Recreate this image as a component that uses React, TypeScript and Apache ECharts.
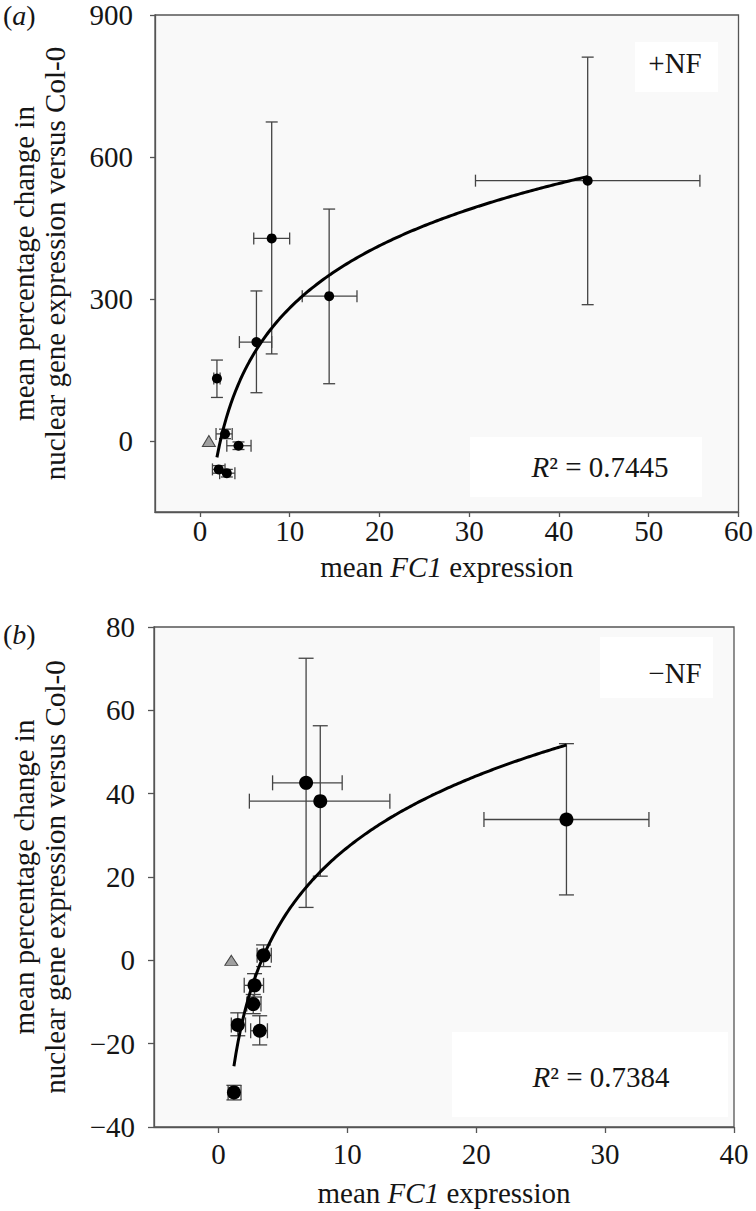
import React, { useEffect, useRef } from "react";
import * as echarts from "echarts";

// ---------- Panel (a): +NF ----------
const aX = [1.9, 2.8, 4.3, 2.1, 3.0, 6.3, 8.0, 14.4, 43.2];
const aY = [132, 15, -10, -60, -68, 209, 428, 306, 550];
const aXLow = [1.55, 1.8, 3.0, 1.4, 2.2, 4.4, 6.0, 11.4, 30.7];
const aXHigh = [2.25, 3.6, 5.7, 2.8, 3.9, 8.0, 10.0, 17.5, 55.7];
const aYLow = [92, 5, -18, -68, -76, 102, 184, 121, 288];
const aYHigh = [171, 25, -2, -52, -60, 317, 674, 490, 811];
const aControl = [[1.0, 0]];
const aXTicks = [0, 10, 20, 30, 40, 50, 60];
const aYTicks = [0, 300, 600, 900];
const aR2 = "0.7445";
const aTag = "+NF";

// ---------- Panel (b): -NF ----------
const bX = [6.8, 7.9, 27.0, 3.5, 2.8, 2.7, 1.5, 3.2, 1.2];
const bY = [42.6, 38.2, 33.8, 1.2, -6.0, -10.5, -15.5, -16.9, -31.7];
const bXLow = [4.2, 2.4, 20.6, 3.0, 2.0, 2.2, 1.0, 2.5, 0.75];
const bXHigh = [9.6, 13.3, 33.4, 4.1, 3.5, 3.3, 2.1, 3.8, 1.75];
const bYLow = [12.7, 20.2, 15.7, -1.5, -8.8, -12.8, -18.1, -20.3, -33.5];
const bYHigh = [72.5, 56.3, 52.0, 3.7, -3.2, -8.2, -12.6, -13.3, -30.0];
const bControl = [[1.0, 0]];
const bXTicks = [0, 10, 20, 30, 40];
const bR2 = "0.7384";
const bTag = "\u2212NF";

const FONT = "'Liberation Serif', 'DejaVu Serif', serif";
const AXIS_COLOR = "#555";
const TEXT_COLOR = "#151515";

// logarithmic least-squares trend line (y = a ln x + b) over the data range
function logTrend(xs: number[], ys: number[], n = 160) {
  const ls = xs.map((x) => Math.log(x));
  const ml = ls.reduce((s, v) => s + v, 0) / ls.length;
  const my = ys.reduce((s, v) => s + v, 0) / ys.length;
  let sxy = 0;
  let sxx = 0;
  ls.forEach((l, i) => {
    sxy += (l - ml) * (ys[i] - my);
    sxx += (l - ml) * (l - ml);
  });
  const a = sxy / sxx;
  const b = my - a * ml;
  const lo = Math.min(...xs);
  const hi = Math.max(...xs);
  const out: number[][] = [];
  for (let i = 0; i <= n; i++) {
    const x = lo + ((hi - lo) * i) / n;
    out.push([x, a * Math.log(x) + b]);
  }
  return out;
}

function errRows(xs: number[], ys: number[], xl: number[], xh: number[], yl: number[], yh: number[]) {
  return xs.map((x, i) => [x, ys[i], xl[i], xh[i], yl[i], yh[i]]);
}

function errorBarRenderer(cap: number) {
  return (_params: any, api: any) => {
    const x = api.value(0);
    const y = api.value(1);
    const pl = api.coord([api.value(2), y]);
    const ph = api.coord([api.value(3), y]);
    const pb = api.coord([x, api.value(4)]);
    const pt = api.coord([x, api.value(5)]);
    const style = { stroke: "#444", lineWidth: 1.3, fill: null };
    const ln = (x1: number, y1: number, x2: number, y2: number) => ({
      type: "line",
      shape: { x1, y1, x2, y2 },
      style,
    });
    return {
      type: "group",
      children: [
        ln(pl[0], pl[1], ph[0], ph[1]),
        ln(pl[0], pl[1] - cap, pl[0], pl[1] + cap),
        ln(ph[0], ph[1] - cap, ph[0], ph[1] + cap),
        ln(pb[0], pb[1], pt[0], pt[1]),
        ln(pb[0] - cap, pb[1], pb[0] + cap, pb[1]),
        ln(pt[0] - cap, pt[1], pt[0] + cap, pt[1]),
      ],
    };
  };
}

const minusFmt = (v: number) => (v < 0 ? "\u2212" + Math.abs(v) : String(v));

const yName = "mean percentage change in\nnuclear gene expression versus Col-0";
const xName = "{n|mean }{i|FC1}{n| expression}";
const nameStyle = {
  fontFamily: FONT,
  fontSize: 29,
  lineHeight: 31,
  color: TEXT_COLOR,
  rich: {
    n: { fontFamily: FONT, fontSize: 29, color: TEXT_COLOR },
    i: { fontFamily: FONT, fontSize: 29, color: TEXT_COLOR, fontStyle: "italic" },
  },
};

function makeX(gridIndex: number, min: number, max: number, ticks: number[], margin: number, nameGap: number, tickLen: number) {
  return {
    type: "value",
    gridIndex,
    min,
    max,
    name: xName,
    nameLocation: "middle",
    nameGap,
    nameTextStyle: nameStyle,
    axisLine: { show: true, onZero: false, lineStyle: { color: AXIS_COLOR, width: 1.3 } },
    axisTick: { show: true, inside: false, length: tickLen, customValues: ticks, lineStyle: { color: AXIS_COLOR, width: 1.3 } },
    axisLabel: { customValues: ticks, margin, fontFamily: FONT, fontSize: 29, color: TEXT_COLOR, formatter: minusFmt },
    splitLine: { show: false },
  };
}

function makeY(gridIndex: number, min: number, max: number, ticks: number[] | null, interval: number | null, margin: number, nameGap: number, tickLen: number) {
  const ax: any = {
    type: "value",
    gridIndex,
    min,
    max,
    name: yName,
    nameLocation: "middle",
    nameRotate: 90,
    nameGap,
    nameTextStyle: nameStyle,
    axisLine: { show: true, onZero: false, lineStyle: { color: AXIS_COLOR, width: 1.3 } },
    axisTick: { show: true, inside: false, length: tickLen, lineStyle: { color: AXIS_COLOR, width: 1.3 } },
    axisLabel: { margin, fontFamily: FONT, fontSize: 29, color: TEXT_COLOR, formatter: minusFmt },
    splitLine: { show: false },
  };
  if (ticks) {
    ax.axisTick.customValues = ticks;
    ax.axisLabel.customValues = ticks;
  }
  if (interval) ax.interval = interval;
  return ax;
}

function panelLabel(letter: string, y: number) {
  return {
    type: "text",
    x: 3,
    y,
    z: 20,
    style: {
      text: "{n|(}{i|" + letter + "}{n|)}",
      fontFamily: FONT,
      fontSize: 28,
      fill: TEXT_COLOR,
      verticalAlign: "middle",
      rich: {
        n: { fontFamily: FONT, fontSize: 28, fill: TEXT_COLOR },
        i: { fontFamily: FONT, fontSize: 28, fill: TEXT_COLOR, fontStyle: "italic" },
      },
    },
  };
}

function box(x: number, y: number, w: number, h: number) {
  return { type: "rect", shape: { x, y, width: w, height: h }, style: { fill: "#ffffff" }, z: 1 };
}

function centerText(text: string, x: number, y: number) {
  return {
    type: "text",
    x,
    y,
    z: 20,
    style: {
      text,
      fontFamily: FONT,
      fontSize: 29,
      fill: TEXT_COLOR,
      align: "center",
      verticalAlign: "middle",
      rich: {
        i: { fontFamily: FONT, fontSize: 29, fill: TEXT_COLOR, fontStyle: "italic" },
        n: { fontFamily: FONT, fontSize: 29, fill: TEXT_COLOR },
      },
    },
  };
}

export default function App() {
  const ref = useRef<HTMLDivElement>(null);

  useEffect(() => {
    if (!ref.current) return;
    const chart = echarts.init(ref.current, null, { renderer: "svg" });

    const option: any = {
      animation: false,
      backgroundColor: "#ffffff",
      grid: [
        { left: 155, top: 15, width: 585, height: 497, show: true, backgroundColor: "#f9f9f9", borderColor: AXIS_COLOR, borderWidth: 1.3 },
        { left: 154, top: 627, width: 580, height: 500, show: true, backgroundColor: "#f9f9f9", borderColor: AXIS_COLOR, borderWidth: 1.3 },
      ],
      xAxis: [
        makeX(0, -5, 60, aXTicks, 4, 39, 5),
        makeX(1, -5, 40, bXTicks, 12, 50, 6),
      ],
      yAxis: [
        makeY(0, -150, 900, aYTicks, null, 22, 85, 5),
        makeY(1, -40, 80, null, 20, 19, 84, 6),
      ],
      graphic: [
        panelLabel("a", 15),
        panelLabel("b", 634),
        box(635, 42, 83, 50),
        centerText(aTag, 675, 63),
        box(470, 437, 232, 60),
        centerText("{i|R}{n|\u00b2 = " + aR2 + "}", 600, 467),
        box(600, 637, 113, 61),
        centerText(bTag, 675, 673),
        box(452, 1032, 276, 85),
        centerText("{i|R}{n|\u00b2 = " + bR2 + "}", 601, 1077),
      ],
      series: [
        {
          type: "custom",
          xAxisIndex: 0,
          yAxisIndex: 0,
          z: 3,
          renderItem: errorBarRenderer(6),
          data: errRows(aX, aY, aXLow, aXHigh, aYLow, aYHigh),
          encode: { x: 0, y: 1 },
        },
        {
          type: "line",
          xAxisIndex: 0,
          yAxisIndex: 0,
          z: 4,
          showSymbol: false,
          symbol: "none",
          lineStyle: { color: "#000", width: 3 },
          data: logTrend(aX, aY),
        },
        {
          type: "scatter",
          xAxisIndex: 0,
          yAxisIndex: 0,
          z: 5,
          symbol: "circle",
          symbolSize: 10,
          itemStyle: { color: "#000", opacity: 1 },
          data: aX.map((x, i) => [x, aY[i]]),
        },
        {
          type: "scatter",
          xAxisIndex: 0,
          yAxisIndex: 0,
          z: 5,
          symbol: "triangle",
          symbolSize: [13, 11],
          itemStyle: { color: "#a0a0a0", borderColor: "#444", borderWidth: 1, opacity: 1 },
          data: aControl,
        },
        {
          type: "custom",
          xAxisIndex: 1,
          yAxisIndex: 1,
          z: 3,
          renderItem: errorBarRenderer(7.5),
          data: errRows(bX, bY, bXLow, bXHigh, bYLow, bYHigh),
          encode: { x: 0, y: 1 },
        },
        {
          type: "line",
          xAxisIndex: 1,
          yAxisIndex: 1,
          z: 4,
          showSymbol: false,
          symbol: "none",
          lineStyle: { color: "#000", width: 3 },
          data: logTrend(bX, bY),
        },
        {
          type: "scatter",
          xAxisIndex: 1,
          yAxisIndex: 1,
          z: 5,
          symbol: "circle",
          symbolSize: 14,
          itemStyle: { color: "#000", opacity: 1 },
          data: bX.map((x, i) => [x, bY[i]]),
        },
        {
          type: "scatter",
          xAxisIndex: 1,
          yAxisIndex: 1,
          z: 5,
          symbol: "triangle",
          symbolSize: [13, 10],
          itemStyle: { color: "#a0a0a0", borderColor: "#444", borderWidth: 1, opacity: 1 },
          data: bControl,
        },
      ],
    };

    chart.setOption(option);
    return () => chart.dispose();
  }, []);

  return (
    <div
      ref={ref}
      style={{ position: "absolute", left: 0, top: 0, width: 756, height: 1211, background: "#fff" }}
    />
  );
}
